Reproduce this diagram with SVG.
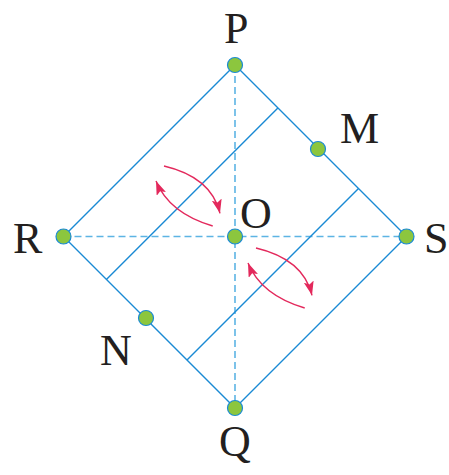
<svg xmlns="http://www.w3.org/2000/svg" width="449" height="475" viewBox="0 0 449 475">
<style>
.edge{stroke:#1a8ad4;stroke-width:1.4;fill:none}
.dash{stroke:#5db4e4;stroke-width:1.6;stroke-dasharray:7 4;fill:none}
.rot{stroke:#e3295c;stroke-width:1.4;fill:none;marker-end:url(#ah)}
.dot{fill:#8cc63e;stroke:#1a8ad4;stroke-width:1.2}
.lbl{font-family:"Liberation Serif",serif;font-size:44px;fill:#231f20}
</style>
<defs>
<marker id="ah" markerUnits="userSpaceOnUse" markerWidth="15" markerHeight="10" viewBox="0 0 15 10" refX="14" refY="5" orient="auto">
<path d="M0,0 L14,5 L0,10 L3,5 z" fill="#e3295c"/>
</marker>
</defs>
<g id="connectors">
<line class="dash" x1="235" y1="65" x2="235" y2="408"/>
<line class="dash" x1="63.5" y1="236.5" x2="406.5" y2="236.5"/>
<path class="edge" d="M235,65 L406.5,236.5 L235,408 L63.5,236.5 Z"/>
<line class="edge" x1="277.9" y1="107.9" x2="106.4" y2="279.4"/>
<line class="edge" x1="358.5" y1="188.5" x2="187" y2="360"/>
<path class="rot" d="M164,166 Q211.4,177.1 220,213.3"/>
<path class="rot" d="M212.7,226 Q169.1,213.1 156,181"/>
<path class="rot" d="M256,248 Q303.4,259.1 312,295.3"/>
<path class="rot" d="M304.7,308 Q261.1,295.1 248,263"/>
</g>
<g id="P"><circle class="dot" cx="235" cy="65" r="7.5"/><text class="lbl" x="224" y="43">P</text></g>
<g id="Q"><circle class="dot" cx="235" cy="408" r="7.5"/><text class="lbl" x="219" y="456">Q</text></g>
<g id="R"><circle class="dot" cx="63.5" cy="236.5" r="7.5"/><text class="lbl" x="13" y="253">R</text></g>
<g id="S"><circle class="dot" cx="406.5" cy="236.5" r="7.5"/><text class="lbl" x="424" y="253">S</text></g>
<g id="O"><circle class="dot" cx="235" cy="236.5" r="7.5"/><text class="lbl" x="240" y="228">O</text></g>
<g id="M"><circle class="dot" cx="318" cy="149" r="7.5"/><text class="lbl" x="340" y="143">M</text></g>
<g id="N"><circle class="dot" cx="146" cy="318" r="7.5"/><text class="lbl" x="100" y="365">N</text></g>
</svg>
